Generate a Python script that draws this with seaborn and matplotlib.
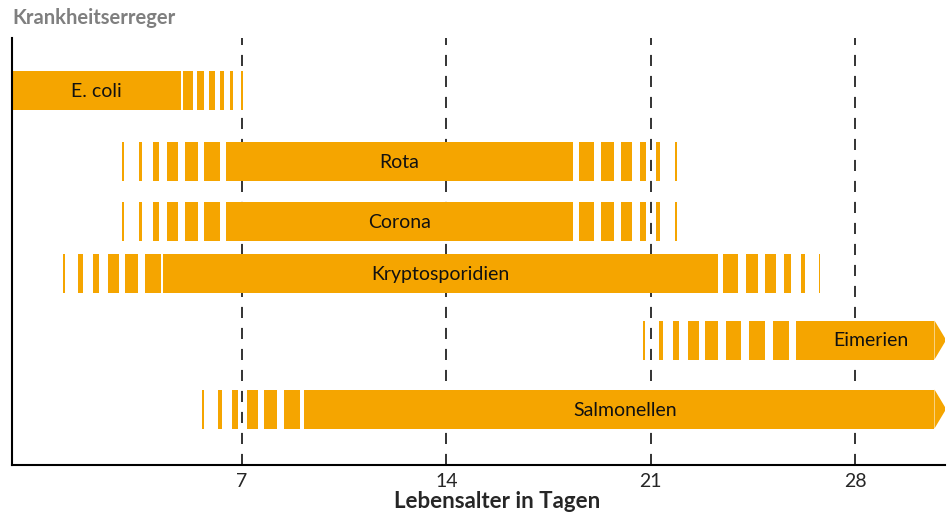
import matplotlib
matplotlib.use("Agg")
import matplotlib.pyplot as plt
from matplotlib.patches import Polygon
import seaborn as sns

# ---------------- data (days of life) ----------------
pathogens = ["E. coli", "Rota", "Corona", "Kryptosporidien", "Eimerien", "Salmonellen"]

# main (solid) phase per pathogen: start, end
solid_start = [-0.88, 6.45, 6.45, 4.29, 25.98, 9.11]
solid_end = [4.91, 18.34, 18.34, 23.29, 30.72, 30.72]
open_ended = [False, False, False, False, True, True]

# fading stripes (start, end) before / after the main phase
ecoli_stripes = [(4.98, 5.32), (5.46, 5.70), (5.87, 6.07), (6.25, 6.38), (6.59, 6.69), (6.96, 7.03)]
rota_stripes = [(2.89, 2.96), (3.47, 3.59), (3.96, 4.14), (4.43, 4.81), (5.05, 5.48), (5.70, 6.24),
                (18.55, 19.07), (19.30, 19.74), (19.99, 20.36), (20.63, 20.84), (21.19, 21.32), (21.84, 21.89)]
corona_stripes = [(2.89, 2.96), (3.47, 3.59), (3.96, 4.14), (4.43, 4.81), (5.05, 5.48), (5.70, 6.24),
                  (18.55, 19.07), (19.30, 19.74), (19.99, 20.36), (20.63, 20.84), (21.19, 21.32), (21.84, 21.89)]
krypto_stripes = [(0.86, 0.92), (1.39, 1.55), (1.89, 2.10), (2.40, 2.79), (2.99, 3.43), (3.67, 4.21),
                  (23.48, 24.00), (24.27, 24.67), (24.91, 25.30), (25.56, 25.79), (26.15, 26.27), (26.76, 26.81)]
eimerien_stripes = [(20.74, 20.80), (21.29, 21.42), (21.75, 21.97), (22.28, 22.66), (22.86, 23.30),
                    (23.58, 24.09), (24.37, 24.92), (25.19, 25.74)]
salmo_stripes = [(5.63, 5.70), (6.18, 6.31), (6.66, 6.86), (7.17, 7.55), (7.75, 8.19), (8.44, 8.99)]
stripes = [ecoli_stripes, rota_stripes, corona_stripes, krypto_stripes, eimerien_stripes, salmo_stripes]

tick_days = [7, 14, 21, 28]
tick_labels = ["7", "14", "21", "28"]
title_text = "Krankheitserreger"
xlabel_text = "Lebensalter in Tagen"

# ---------------- layout / style ----------------
W, H = 952, 515
row_centres = [90.5, 161, 221, 273.5, 340, 409]   # pixel rows in figure
bar_h = 39
orange = "#F5A500"
FONT = ["Lato", "DejaVu Sans"]

sns.set_theme(style="white")
plt.rcParams["font.family"] = FONT

fig = plt.figure(figsize=(W / 100, H / 100), dpi=100)
ax_left, ax_right, ax_top, ax_bottom = 12, 945, 38, 465
ax = fig.add_axes([ax_left / W, 1 - ax_bottom / H, (ax_right - ax_left) / W, (ax_bottom - ax_top) / H])
ax.set_xlim(-0.88, 31.08)
ax.set_ylim(ax_bottom, ax_top)

# dashed reference lines
for d in tick_days:
    ax.axvline(d, color="#333333", lw=1.4, linestyle=(0, (5.7, 5.1)), zorder=1)

tip_len = 0.40
for i, name in enumerate(pathogens):
    yc = row_centres[i]
    y0 = yc - bar_h / 2
    segs = [(s, e - s) for s, e in stripes[i]]
    segs.append((solid_start[i], solid_end[i] - solid_start[i]))
    ax.broken_barh(segs, (y0, bar_h), facecolors=orange, edgecolor="none", zorder=2)
    end = solid_end[i]
    if open_ended[i]:
        tip = Polygon([(end, y0), (end + tip_len, yc), (end, y0 + bar_h)], closed=True,
                      facecolor=orange, edgecolor="none", zorder=2)
        ax.add_patch(tip)
        end = end + tip_len
    xc = (max(solid_start[i], -0.88) + end) / 2
    ax.text(xc, yc + 1, name, ha="center", va="center", fontsize=14, color="#111111", zorder=3)

ax.set_xticks(tick_days)
ax.set_xticklabels(tick_labels, fontsize=14)
ax.set_yticks([])
ax.tick_params(axis="x", length=0, pad=6)
for s in ["top", "right"]:
    ax.spines[s].set_visible(False)
for s in ["left", "bottom"]:
    ax.spines[s].set_color("black")
    ax.spines[s].set_linewidth(1.5)
ax.set_xlabel(xlabel_text, fontsize=16, fontweight="bold", labelpad=0)
ax.xaxis.set_label_coords(0.520, -0.061)
fig.text(12 / W, 1 - 18 / H, title_text, fontsize=14.5, fontweight="bold", color="#7f7f7f",
         ha="left", va="center")

fig.savefig("out.png", dpi=100)
